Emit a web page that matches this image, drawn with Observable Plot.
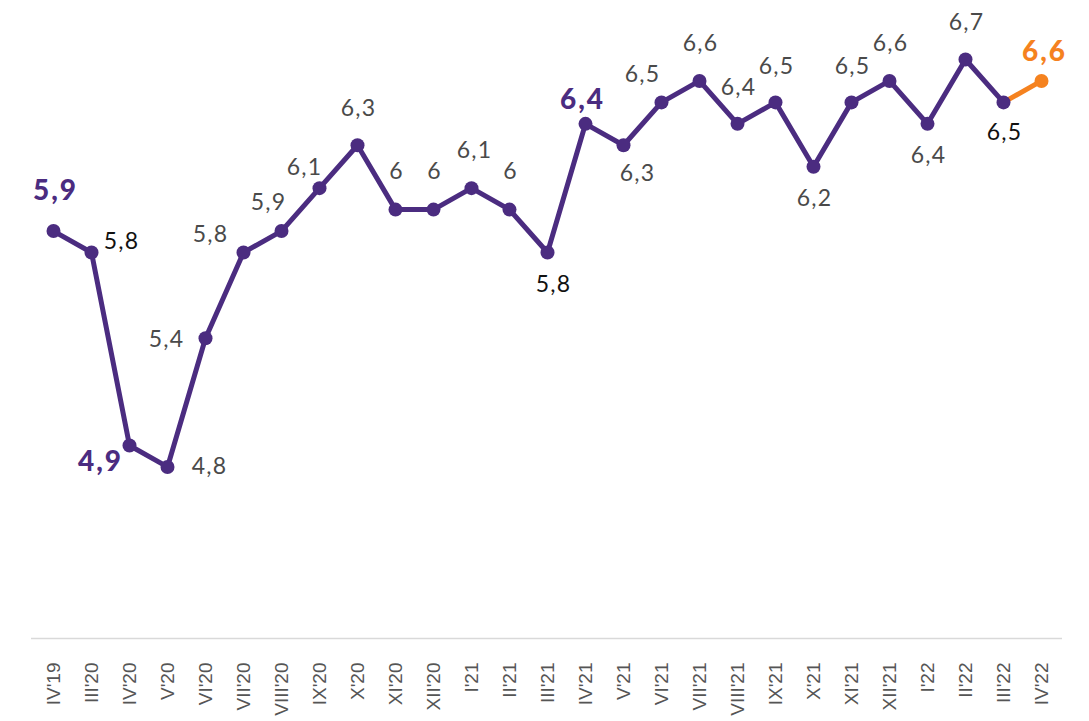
<!DOCTYPE html>
<html><head><meta charset="utf-8">
<script src="https://cdn.jsdelivr.net/npm/d3@7"></script>
<script src="https://cdn.jsdelivr.net/npm/@observablehq/plot@0.6"></script>
<style>
body{margin:0;background:#fff}
g[aria-label="text"] text{letter-spacing:1.2px}
g[aria-label="text"][font-weight="900"] text{letter-spacing:2px}
</style>
</head><body><div id="chart"></div>
<script>
const periods = ["IV'19","III'20","IV'20","V'20","VI'20","VII'20","VIII'20","IX'20","X'20","XI'20","XII'20","I'21","II'21","III'21","IV'21","V'21","VI'21","VII'21","VIII'21","IX'21","X'21","XI'21","XII'21","I'22","II'22","III'22","IV'22"];
const values = [5.9,5.8,4.9,4.8,5.4,5.8,5.9,6.1,6.3,6,6,6.1,6,5.8,6.4,6.3,6.5,6.6,6.4,6.5,6.2,6.5,6.6,6.4,6.7,6.5,6.6];
// label style key per point
const labelKind = ["bold","black","bold","grey","grey","grey","grey","grey","grey","grey","grey","grey","grey","black","bold","grey","grey","grey","grey","grey","grey","grey","grey","grey","grey","black","orange"];

// layout: label offsets (px) relative to each point
const labelDx = [2,30,-29,42,-39,-33,-13,-15,1,1,1,3,1,6,-3,14,-19,1,1,1,1,1,1,1,1,1,3];
const labelDy = [-40,-11,17,0,1,-18,-28,-21,-37,-38,-38,-38,-38,32,-24,28,-28,-37,-36,-36,32,-36,-37,32,-37,30,-29];

const PURPLE = "#4b2c80", ORANGE = "#f5821f";
const kindStyle = {
  bold: {fill: PURPLE, fontWeight: 900, fontSize: 28},
  black: {fill: "#111111", fontWeight: 400, fontSize: 23},
  grey: {fill: "#4a4a4a", fontWeight: 400, fontSize: 23},
  orange: {fill: ORANGE, fontWeight: 900, fontSize: 28}
};

const rows = periods.map((p, i) => ({period: p, value: values[i], i}));
const fmt = v => String(v).replace(".", ",");

const labelMarks = rows.map((r, i) => {
  const s = kindStyle[labelKind[i]];
  return Plot.text([r], {
    x: "period", y: "value", text: d => fmt(d.value),
    dx: labelDx[i], dy: labelDy[i],
    fontSize: s.fontSize, fontFamily: "Lato, 'Open Sans', sans-serif",
    fill: s.fill, fontWeight: s.fontWeight,
    textAnchor: "middle", lineAnchor: "middle"
  });
});

const chart = Plot.plot({
  width: 1089, height: 721,
  marginLeft: 49, marginRight: 45, marginTop: 59, marginBottom: 83,
  style: {background: "#fff", overflow: "visible"},
  x: {type: "point", domain: periods, padding: 0, label: null},
  y: {domain: [4, 6.7], axis: null},
  marks: [
    Plot.ruleY([4], {stroke: "#d9d9d9", strokeWidth: 1.5, insetLeft: -18, insetRight: -18}),
    Plot.axisX({tickRotate: -90, tickSize: 0, tickPadding: 24, fontSize: 19,
      fontFamily: "'Liberation Sans', Arial, sans-serif", color: "#555", label: null}),
    Plot.line(rows.slice(0, 26), {x: "period", y: "value", stroke: PURPLE, strokeWidth: 5, strokeLinejoin: "round"}),
    Plot.line(rows.slice(25), {x: "period", y: "value", stroke: ORANGE, strokeWidth: 5}),
    Plot.dot(rows, {x: "period", y: "value", r: 7, fill: d => d.i === 26 ? ORANGE : PURPLE, stroke: "none"}),
    ...labelMarks
  ]
});
document.getElementById("chart").appendChild(chart);
</script>
</body></html>
